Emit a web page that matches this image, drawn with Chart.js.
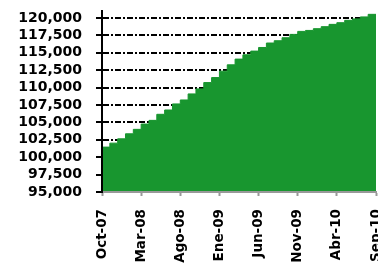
<!DOCTYPE html>
<html>
<head>
<meta charset="utf-8">
<script src="https://cdn.jsdelivr.net/npm/chart.js@4/dist/chart.umd.min.js"></script>
<style>
  html, body { margin: 0; padding: 0; background: #fff; }
  #wrap { width: 378px; height: 265px; }
</style>
</head>
<body>
<div id="wrap"><canvas id="areaChart"></canvas></div>
<script>
const months = [
    'Oct-07', 'Nov-07', 'Dic-07', 'Ene-08', 'Feb-08', 'Mar-08', 'Abr-08', 'May-08', 'Jun-08',
    'Jul-08', 'Ago-08', 'Sep-08', 'Oct-08', 'Nov-08', 'Dic-08', 'Ene-09', 'Feb-09', 'Mar-09',
    'Abr-09', 'May-09', 'Jun-09', 'Jul-09', 'Ago-09', 'Sep-09', 'Oct-09', 'Nov-09', 'Dic-09',
    'Ene-10', 'Feb-10', 'Mar-10', 'Abr-10', 'May-10', 'Jun-10', 'Jul-10', 'Ago-10', 'Sep-10'
];

const totals = [
    101450, 102020, 102640, 103360, 104000, 104760, 105290, 106160, 106780,
    107650, 108220, 109090, 109810, 110720, 111440, 112360, 113270, 114090,
    114710, 115240, 115760, 116400, 116730, 117160, 117640, 118070, 118210,
    118460, 118750, 119080, 119320, 119660, 119860, 120150, 120520, 120520
];

const yTicks = [95000, 97500, 100000, 102500, 105000, 107500, 110000, 112500, 115000, 117500, 120000];

const yMin = 95000;
const yMax = 121000;
const labelEvery = 5;

const ctx = document.getElementById('areaChart').getContext('2d');

new Chart(ctx, {
    type: 'line',
    data: {
        labels: months,
        datasets: [{
            data: totals,
            stepped: 'before',
            fill: 'origin',
            backgroundColor: '#18962f',
            borderColor: '#18962f',
            borderWidth: 1,
            pointRadius: 0
        }]
    },
    options: {
        responsive: true,
        maintainAspectRatio: false,
        animation: false,
        layout: { padding: { top: 11, right: 2, left: 0, bottom: 0 } },
        plugins: {
            legend: { display: false },
            tooltip: { enabled: false }
        },
        scales: {
            x: {
                offset: false,
                grid: {
                    drawOnChartArea: false,
                    tickLength: 4,
                    tickColor: '#999999',
                    tickWidth: 2
                },
                border: { color: '#999999', width: 2, z: 1 },
                ticks: {
                    autoSkip: false,
                    minRotation: 90,
                    maxRotation: 90,
                    padding: 13,
                    color: '#000',
                    font: { family: "'DejaVu Sans', sans-serif", weight: 'bold', size: 13.5 }
                },
                afterBuildTicks: (scale) => {
                    scale.ticks = scale.ticks.filter((t, i) => i % labelEvery === 0);
                },
                afterFit: (scale) => {
                    scale.height = 73;
                    scale.paddingLeft = 0;
                    scale.paddingRight = 0;
                }
            },
            y: {
                min: yMin,
                max: yMax,
                grid: {
                    color: '#000',
                    lineWidth: 2,
                    tickLength: 6,
                    tickColor: '#000',
                    tickWidth: 2,
                    tickBorderDash: []
                },
                border: { color: '#000', width: 2, dash: [6, 2, 2, 2], z: 1 },
                ticks: {
                    autoSkip: false,
                    padding: 14,
                    color: '#000',
                    font: { family: "'DejaVu Sans', sans-serif", weight: 'bold', size: 14 },
                    callback: (value) => value.toLocaleString('en-US')
                },
                afterBuildTicks: (scale) => {
                    scale.ticks = yTicks.map(v => ({ value: v }));
                },
                afterFit: (scale) => {
                    scale.width = 102;
                    scale.paddingTop = 0;
                    scale.paddingBottom = 0;
                }
            }
        }
    }
});
</script>
</body>
</html>
